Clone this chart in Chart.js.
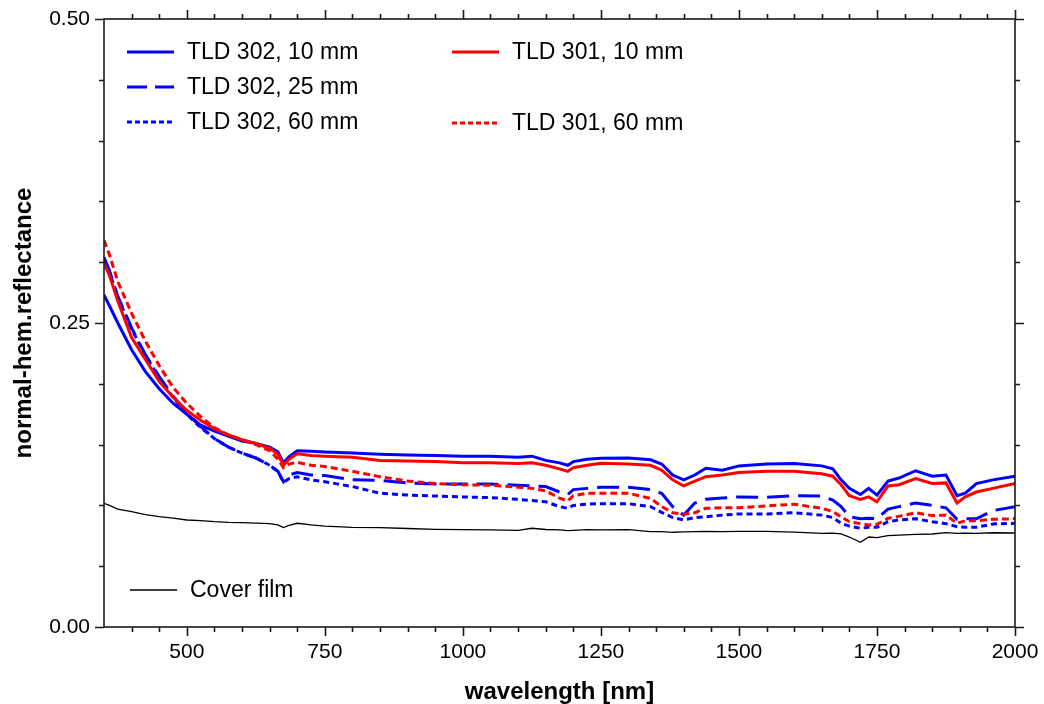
<!DOCTYPE html>
<html>
<head>
<meta charset="utf-8">
<script src="https://cdn.jsdelivr.net/npm/chart.js@4.4.1/dist/chart.umd.min.js"></script>
<style>
  html, body { margin: 0; padding: 0; background: #ffffff; }
  #wrap { width: 1044px; height: 704px; position: relative; }
</style>
</head>
<body>
<div id="wrap"><canvas id="c" width="1044" height="704"></canvas></div>
<script>
const wavelength = [350, 360, 375, 400, 425, 450, 475, 500, 525, 550, 575, 600, 625, 650, 665, 675, 685, 700, 725, 750, 800, 850, 900, 950, 1000, 1050, 1100, 1125, 1150, 1175, 1190, 1200, 1225, 1250, 1300, 1340, 1360, 1380, 1400, 1420, 1440, 1470, 1500, 1550, 1600, 1650, 1670, 1685, 1700, 1720, 1735, 1750, 1770, 1790, 1820, 1850, 1875, 1895, 1910, 1930, 1960, 2000];

const tld302_10mm = [0.273, 0.264, 0.250, 0.228, 0.210, 0.196, 0.184, 0.175, 0.166, 0.161, 0.157, 0.153, 0.151, 0.148, 0.144, 0.135, 0.140, 0.145, 0.1445, 0.144, 0.143, 0.142, 0.1415, 0.141, 0.1405, 0.1405, 0.1395, 0.1405, 0.137, 0.135, 0.133, 0.136, 0.138, 0.1388, 0.139, 0.1375, 0.134, 0.125, 0.121, 0.125, 0.1305, 0.129, 0.1325, 0.134, 0.1345, 0.1325, 0.130, 0.121, 0.114, 0.109, 0.114, 0.1085, 0.120, 0.1225, 0.1285, 0.124, 0.125, 0.108, 0.110, 0.118, 0.121, 0.124];

const tld302_25mm = [0.304, 0.293, 0.272, 0.246, 0.224, 0.206, 0.190, 0.176, 0.165, 0.155, 0.148, 0.143, 0.139, 0.133, 0.128, 0.1195, 0.125, 0.127, 0.125, 0.1245, 0.121, 0.1205, 0.1185, 0.1176, 0.1176, 0.1176, 0.1165, 0.116, 0.1155, 0.111, 0.109, 0.113, 0.114, 0.115, 0.115, 0.113, 0.110, 0.099, 0.092, 0.102, 0.105, 0.106, 0.107, 0.1066, 0.108, 0.1077, 0.1044, 0.099, 0.0907, 0.089, 0.0895, 0.089, 0.097, 0.099, 0.102, 0.100, 0.098, 0.0886, 0.089, 0.089, 0.0957, 0.099];

const tld302_60mm = [0.303, 0.292, 0.271, 0.245, 0.223, 0.205, 0.189, 0.175, 0.164, 0.155, 0.148, 0.143, 0.139, 0.133, 0.128, 0.119, 0.122, 0.1235, 0.121, 0.1195, 0.1155, 0.110, 0.1085, 0.1077, 0.107, 0.1064, 0.105, 0.104, 0.103, 0.099, 0.0976, 0.100, 0.101, 0.1014, 0.1014, 0.099, 0.0943, 0.090, 0.088, 0.090, 0.0907, 0.092, 0.093, 0.093, 0.094, 0.092, 0.090, 0.0853, 0.083, 0.0812, 0.082, 0.082, 0.0866, 0.088, 0.089, 0.0866, 0.085, 0.0825, 0.082, 0.082, 0.0847, 0.0853];

const tld301_10mm = [0.299, 0.289, 0.268, 0.238, 0.220, 0.202, 0.189, 0.178, 0.170, 0.163, 0.158, 0.154, 0.151, 0.147, 0.142, 0.133, 0.138, 0.1425, 0.141, 0.1405, 0.1395, 0.137, 0.1365, 0.136, 0.135, 0.135, 0.1345, 0.135, 0.133, 0.130, 0.128, 0.131, 0.133, 0.1346, 0.134, 0.133, 0.129, 0.121, 0.116, 0.120, 0.1236, 0.125, 0.127, 0.128, 0.128, 0.126, 0.124, 0.117, 0.108, 0.105, 0.107, 0.103, 0.116, 0.117, 0.122, 0.118, 0.1185, 0.102, 0.107, 0.111, 0.114, 0.118];

const tld301_60mm = [0.318, 0.306, 0.284, 0.258, 0.235, 0.215, 0.197, 0.184, 0.173, 0.164, 0.158, 0.154, 0.150, 0.145, 0.138, 0.131, 0.134, 0.1355, 0.133, 0.132, 0.128, 0.1236, 0.120, 0.118, 0.117, 0.1165, 0.115, 0.114, 0.112, 0.106, 0.1036, 0.108, 0.110, 0.110, 0.110, 0.1058, 0.099, 0.094, 0.0927, 0.094, 0.0976, 0.098, 0.098, 0.0995, 0.101, 0.0976, 0.095, 0.0907, 0.0866, 0.085, 0.0839, 0.0845, 0.0894, 0.091, 0.094, 0.0916, 0.092, 0.0853, 0.0874, 0.0874, 0.0886, 0.089];

const coverFilm = [0.1017, 0.100, 0.097, 0.0948, 0.0925, 0.0907, 0.0895, 0.088, 0.0875, 0.0866, 0.086, 0.0858, 0.0855, 0.085, 0.0839, 0.0817, 0.0835, 0.0853, 0.084, 0.083, 0.082, 0.0817, 0.081, 0.0803, 0.080, 0.0798, 0.0795, 0.0812, 0.0802, 0.0798, 0.0792, 0.0795, 0.080, 0.0798, 0.080, 0.0785, 0.0785, 0.0779, 0.0782, 0.0785, 0.0787, 0.0784, 0.0787, 0.0787, 0.078, 0.077, 0.0772, 0.0765, 0.074, 0.0697, 0.074, 0.0735, 0.0751, 0.0755, 0.0762, 0.0765, 0.0776, 0.077, 0.0772, 0.077, 0.0775, 0.0773];

const seriesNames = ['TLD 302, 10 mm', 'TLD 302, 25 mm', 'TLD 302, 60 mm', 'TLD 301, 10 mm', 'TLD 301, 60 mm', 'Cover film'];
const xTicks = [500, 750, 1000, 1250, 1500, 1750, 2000];
const xTickLabels = ['500', '750', '1000', '1250', '1500', '1750', '2000'];
const yTicks = [0, 0.25, 0.5];
const yTickLabels = ['0.00', '0.25', '0.50'];
const xTitle = 'wavelength [nm]';
const yTitle = 'normal-hem.reflectance';

function pts(vals) { return wavelength.map((w, i) => ({ x: w, y: vals[i] })); }

const FONT = '"Liberation Sans", Arial, sans-serif';
const AXIS = '#1a1a1a';

const legendPos = [
  { x: 127, y: 52 },   // TLD 302, 10 mm
  { x: 127, y: 87 },   // TLD 302, 25 mm
  { x: 127, y: 122 },  // TLD 302, 60 mm
  { x: 452, y: 52 },   // TLD 301, 10 mm
  { x: 452, y: 123 },  // TLD 301, 60 mm
  { x: 130, y: 590 }   // Cover film
];

const framePlugin = {
  id: 'frame',
  afterDraw(chart) {
    const ctx = chart.ctx;
    const a = chart.chartArea;
    const xs = chart.scales.x, ys = chart.scales.y;
    ctx.save();
    ctx.strokeStyle = AXIS;
    ctx.lineWidth = 1.6;
    ctx.strokeRect(a.left, a.top, a.right - a.left, a.bottom - a.top);
    ctx.beginPath();
    for (let v = 400; v <= 2000; v += 50) {
      const px = Math.round(xs.getPixelForValue(v)) + 0.5;
      const len = (v % 250 === 0) ? 9 : 5;
      ctx.moveTo(px, a.bottom); ctx.lineTo(px, a.bottom + len);
      ctx.moveTo(px, a.top); ctx.lineTo(px, a.top - len);
    }
    for (let k = 0; k <= 10; k++) {
      const v = k * 0.05;
      const py = Math.round(ys.getPixelForValue(v)) + 0.5;
      const len = (k % 5 === 0) ? 9 : 5;
      ctx.moveTo(a.left, py); ctx.lineTo(a.left - len, py);
      ctx.moveTo(a.right, py); ctx.lineTo(a.right + len, py);
    }
    ctx.stroke();
    // legend
    ctx.font = '23px ' + FONT;
    ctx.textBaseline = 'middle';
    ctx.textAlign = 'left';
    chart.data.datasets.forEach((ds, i) => {
      const p = legendPos[i];
      ctx.beginPath();
      ctx.strokeStyle = ds.borderColor;
      ctx.lineWidth = ds.borderWidth;
      ctx.setLineDash(ds.legendDash || ds.borderDash || []);
      ctx.moveTo(p.x, p.y); ctx.lineTo(p.x + 47, p.y);
      ctx.stroke();
      ctx.setLineDash([]);
      ctx.fillStyle = '#000';
      ctx.fillText(ds.label, p.x + 60, p.y + 1);
    });
    ctx.restore();
  }
};

const colors = ['#0000ff', '#0000ff', '#0000ff', '#ff0000', '#ff0000', '#000000'];
const dashes = [[], [22, 9], [6, 4], [], [7, 4], []];
const legendDashes = [[], [20, 8], [5, 3], [], [5, 3], []];
const widths = [3, 3, 3, 3, 3, 1.3];
const seriesData = [tld302_10mm, tld302_25mm, tld302_60mm, tld301_10mm, tld301_60mm, coverFilm];

const datasets = seriesData.map((vals, i) => ({
  label: seriesNames[i],
  data: pts(vals),
  borderColor: colors[i],
  backgroundColor: colors[i],
  borderWidth: widths[i],
  borderDash: dashes[i],
  legendDash: legendDashes[i],
  pointRadius: 0,
  tension: 0,
  fill: false,
  order: [2, 3, 4, 1, 0, 5][i]
}));

new Chart(document.getElementById('c'), {
  type: 'line',
  data: { datasets },
  options: {
    responsive: false,
    animation: false,
    devicePixelRatio: 1,
    layout: { padding: { top: 19, right: 29, left: 0, bottom: 0 } },
    plugins: { legend: { display: false }, tooltip: { enabled: false } },
    scales: {
      x: {
        type: 'linear',
        min: 350, max: 2000,
        grid: { display: false, drawTicks: false },
        border: { display: false },
        afterBuildTicks: (s) => { s.ticks = xTicks.map(v => ({ value: v })); },
        afterFit: (s) => { s.height = 77; s.paddingLeft = 0; s.paddingRight = 0; },
        ticks: {
          autoSkip: false, maxRotation: 0, padding: 13, color: '#000',
          font: { family: FONT, size: 21 },
          callback: (v) => xTickLabels[xTicks.indexOf(v)]
        },
        title: { display: true, text: xTitle, color: '#000', padding: 0,
                 font: { family: FONT, size: 24, weight: 'bold', lineHeight: 1 } }
      },
      y: {
        type: 'linear',
        min: 0, max: 0.5,
        grid: { display: false, drawTicks: false },
        border: { display: false },
        afterBuildTicks: (s) => { s.ticks = yTicks.map(v => ({ value: v })); },
        afterFit: (s) => { s.width = 104; s.paddingTop = 0; s.paddingBottom = 0; },
        ticks: {
          autoSkip: false, padding: 14, color: '#000',
          font: { family: FONT, size: 21 },
          callback: (v) => yTickLabels[yTicks.indexOf(v)]
        },
        title: { display: true, text: yTitle, color: '#000', padding: { top: 12, bottom: 0 },
                 font: { family: FONT, size: 24, weight: 'bold', lineHeight: 1 } }
      }
    }
  },
  plugins: [framePlugin]
});
</script>
</body>
</html>
